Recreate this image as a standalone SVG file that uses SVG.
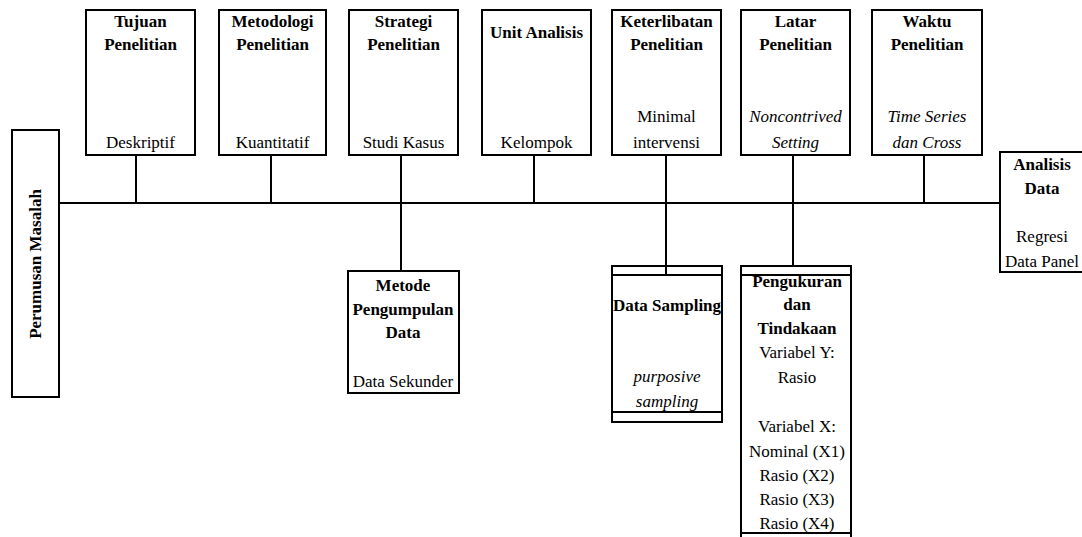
<svg xmlns="http://www.w3.org/2000/svg" width="1082" height="537" viewBox="0 0 1082 537" font-family="'Liberation Serif', 'Times New Roman', serif">
<style>
.box{fill:none;stroke:#000;stroke-width:2}
.ln{stroke:#000;stroke-width:2;fill:none}
text{font-family:'Liberation Serif','Times New Roman',serif;font-size:17px;fill:#000;text-anchor:middle}
.b{font-weight:bold}
.i{font-style:italic}
</style>
<rect x="0" y="0" width="1082" height="537" fill="#fff"/>
<g id="connectors">
<path class="ln" d="M59 203H1000"/>
<path class="ln" d="M136 155V203M271 155V203M401 155V271M534 155V203M666 155V275M793 155V275M924 155V203"/>
</g>
<g id="perumusan"><rect class="box" x="12" y="130" width="47" height="267"/><text class="b" transform="translate(41 264) rotate(-90)">Perumusan Masalah</text></g>
<g id="tujuan"><rect class="box" x="86" y="10" width="109" height="145"/><text class="b" x="140.5" y="27">Tujuan</text><text class="b" x="140.5" y="50">Penelitian</text><text x="140.5" y="148">Deskriptif</text></g>
<g id="metodologi"><rect class="box" x="219" y="10" width="107" height="145"/><text class="b" x="272.5" y="27">Metodologi</text><text class="b" x="272.5" y="50">Penelitian</text><text x="272.5" y="148">Kuantitatif</text></g>
<g id="strategi"><rect class="box" x="349" y="10" width="109" height="145"/><text class="b" x="403.5" y="27">Strategi</text><text class="b" x="403.5" y="50">Penelitian</text><text x="403.5" y="148">Studi Kasus</text></g>
<g id="unit"><rect class="box" x="482" y="10" width="109" height="145"/><text class="b" x="536.5" y="38">Unit Analisis</text><text x="536.5" y="148">Kelompok</text></g>
<g id="keterlibatan"><rect class="box" x="612" y="10" width="109" height="145"/><text class="b" x="666.5" y="27">Keterlibatan</text><text class="b" x="666.5" y="50">Penelitian</text><text x="666.5" y="122">Minimal</text><text x="666.5" y="148">intervensi</text></g>
<g id="latar"><rect class="box" x="741" y="10" width="109" height="145"/><text class="b" x="795.5" y="27">Latar</text><text class="b" x="795.5" y="50">Penelitian</text><text class="i" x="795.5" y="122">Noncontrived</text><text class="i" x="795.5" y="148">Setting</text></g>
<g id="waktu"><rect class="box" x="872" y="10" width="110" height="145"/><text class="b" x="927" y="27">Waktu</text><text class="b" x="927" y="50">Penelitian</text><text class="i" x="927" y="122">Time Series</text><text class="i" x="927" y="148">dan Cross</text></g>
<g id="analisis"><rect class="box" x="1000" y="152" width="90" height="120"/><text class="b" x="1042" y="170">Analisis</text><text class="b" x="1042" y="194">Data</text><text x="1042" y="242">Regresi</text><text x="1042" y="267">Data Panel</text></g>
<g id="metode"><rect class="box" x="348" y="271" width="111" height="122"/><text class="b" x="403" y="291">Metode</text><text class="b" x="403" y="315">Pengumpulan</text><text class="b" x="403" y="338">Data</text><text x="403" y="387">Data Sekunder</text></g>
<g id="sampling"><rect class="box" x="612" y="266" width="110" height="156"/><path class="ln" d="M612 275H722M612 412H722"/><text class="b" x="667" y="311">Data Sampling</text><text class="i" x="667" y="382">purposive</text><text class="i" x="667" y="407">sampling</text></g>
<g id="pengukuran"><text class="b" x="797" y="287">Pengukuran</text><text class="b" x="797" y="310">dan</text><text class="b" x="797" y="334">Tindakaan</text><text x="797" y="358">Variabel Y:</text><text x="797" y="383">Rasio</text><text x="797" y="432">Variabel X:</text><text x="797" y="457">Nominal (X1)</text><text x="797" y="481">Rasio (X2)</text><text x="797" y="505">Rasio (X3)</text><text x="797" y="529">Rasio (X4)</text><rect x="742" y="267" width="108" height="7" fill="#fff"/><rect class="box" x="741" y="266" width="110" height="280"/><path class="ln" d="M741 275H851M741 533H851"/></g>
</svg>
